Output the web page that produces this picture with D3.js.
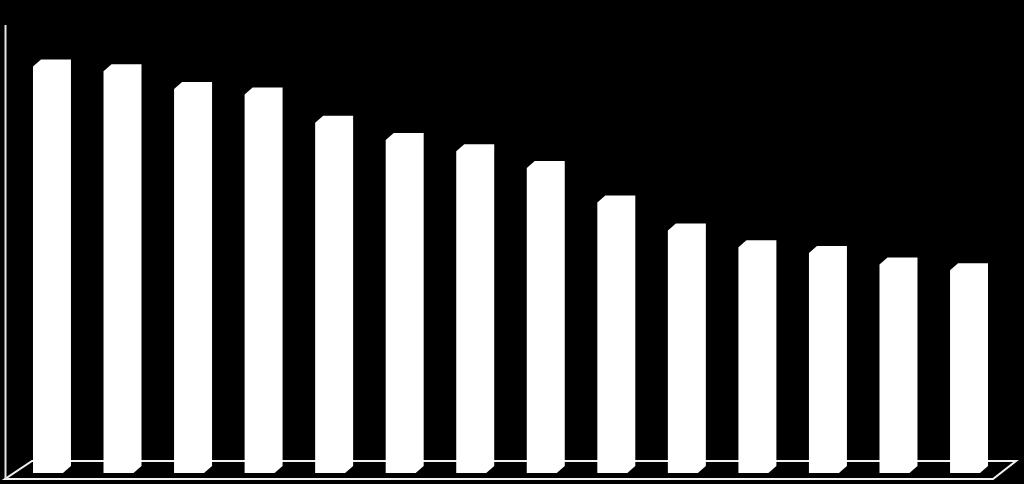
<!DOCTYPE html>
<html>
<head>
<meta charset="utf-8">
<script src="https://cdn.jsdelivr.net/npm/d3@7"></script>
<style>
  html, body { margin: 0; padding: 0; background: #000; }
  svg { display: block; }
</style>
</head>
<body>
<svg id="chart" width="1024" height="484"></svg>
<script>
// Data (relative scale 0-100)
const categories = ["1","2","3","4","5","6","7","8","9","10","11","12","13","14"];
const values = [92.4, 91.3, 87.3, 86.0, 79.6, 75.7, 73.1, 69.3, 61.5, 55.1, 51.3, 50.0, 47.4, 46.1];
const yDomain = [0, 100];

const svg = d3.select("#chart");
const W = 1024, H = 484;
svg.append("rect").attr("width", W).attr("height", H).attr("fill", "#000");

// 3D depth offsets
const barDX = 8, barDY = 7;       // bar depth
const floorDX = 27, floorDY = 18; // floor depth

const x = d3.scaleBand()
  .domain(categories)
  .range([12.7, 1000.3])
  .paddingInner(0.575)
  .paddingOuter(0.2875);

// y for the back plane of the bars
const yBack = d3.scaleLinear().domain(yDomain).range([466, 26]);

// floor
const fl = 5, fr = 993, fy = 479;
svg.append("path")
  .attr("d", `M${fl},${fy} L${fr},${fy} L${fr + floorDX - 4},${fy - floorDY} L${fl + floorDX},${fy - floorDY} Z`)
  .attr("fill", "none")
  .attr("stroke", "#f2f2f2")
  .attr("stroke-width", 2);

// left wall edge
svg.append("line")
  .attr("x1", 5.5).attr("x2", 5.5)
  .attr("y1", fy).attr("y2", yBack(yDomain[1]) - 1)
  .attr("stroke", "#e6e6e6")
  .attr("stroke-width", 2);

// bars
const bw = x.bandwidth();
svg.append("g").selectAll("path")
  .data(categories.map((c, i) => ({ c, v: values[i] })))
  .join("path")
  .attr("d", d => {
    const x0 = x(d.c);
    const x1 = x0 + bw;
    const yTopBack = yBack(d.v);
    const yBotBack = yBack(0);
    const yTopFront = yTopBack + barDY;
    const yBotFront = yBotBack + barDY;
    return `M${x0},${yTopFront} L${x0 + barDX},${yTopBack} L${x1 + barDX},${yTopBack} ` +
           `L${x1 + barDX},${yBotBack} L${x1},${yBotFront} L${x0},${yBotFront} Z`;
  })
  .attr("fill", "#ffffff");
</script>
</body>
</html>
